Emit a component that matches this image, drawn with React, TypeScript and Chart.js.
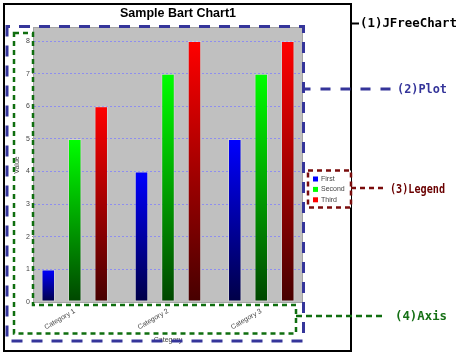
import React, { useEffect, useRef } from 'react';
import { Chart, registerables } from 'chart.js';

Chart.register(...registerables);

const categories = ['Category 1', 'Category 2', 'Category 3'];
const seriesNames = ['First', 'Second', 'Third'];
const firstValues = [1, 4, 5];
const secondValues = [5, 7, 7];
const thirdValues = [6, 8, 8];
const seriesValues = [firstValues, secondValues, thirdValues];
const topColors = ['#0000ff', '#00ff00', '#ff0000'];
const bottomColors = ['#000046', '#004600', '#460000'];
const chartTitle = 'Sample Bart Chart1';
const xTitle = 'Category';
const yTitle = 'Value';
const yMax = 8.4;
const yStep = 1;
const annotationLabels = ['(1)JFreeChart', '(2)Plot', '(3)Legend', '(4)Axis'];

const SANS = '"Liberation Sans", Arial, sans-serif';
const MONO = '"DejaVu Sans Mono", monospace';
const TICK_COLOR = '#444444';
const BLUE = '#35359a';
const GREEN = '#0f6e0f';
const DARKRED = '#7a0c0c';

function dashedLine(ctx: CanvasRenderingContext2D, pts: number[][], color: string, lw: number, dash: number[], offset = 0, close = false) {
  ctx.save();
  ctx.strokeStyle = color;
  ctx.lineWidth = lw;
  ctx.setLineDash(dash);
  ctx.lineDashOffset = offset;
  ctx.beginPath();
  pts.forEach((p, i) => (i === 0 ? ctx.moveTo(p[0], p[1]) : ctx.lineTo(p[0], p[1])));
  if (close) ctx.closePath();
  ctx.stroke();
  ctx.restore();
}

function label(ctx: CanvasRenderingContext2D, text: string, x: number, y: number, color: string, maxW: number) {
  ctx.save();
  ctx.font = `bold 13px ${MONO}`;
  ctx.fillStyle = color;
  ctx.textAlign = 'left';
  ctx.textBaseline = 'middle';
  ctx.fillText(text, x, y, maxW);
  ctx.restore();
}

const decorations = {
  id: 'decorations',
  beforeDraw(chart: any) {
    const { ctx, chartArea: ca } = chart;
    ctx.save();
    ctx.fillStyle = '#c0c0c0';
    ctx.fillRect(ca.left, ca.top, ca.right - ca.left, ca.bottom - ca.top);
    ctx.restore();
  },
  afterDatasetsDraw(chart: any) {
    const { ctx, chartArea: ca } = chart;
    ctx.save();
    ctx.strokeStyle = '#a4a4a4';
    ctx.lineWidth = 1;
    ctx.strokeRect(ca.left - 0.5, ca.top - 0.5, ca.right - ca.left + 1, ca.bottom - ca.top + 1);
    ctx.restore();
  },
  afterDraw(chart: any) {
    const { ctx, chartArea: ca } = chart;
    // outer JFreeChart border
    ctx.save();
    ctx.strokeStyle = '#000';
    ctx.lineWidth = 2;
    ctx.strokeRect(4, 4, 347, 347);
    ctx.restore();

    // legend (drawn from the dataset names / colours)
    const lx = ca.right + 6;
    const ly = 170.5;
    ctx.save();
    ctx.fillStyle = '#ffffff';
    ctx.fillRect(lx, ly, 43, 37);
    ctx.font = `7px ${SANS}`;
    ctx.textBaseline = 'middle';
    chart.data.datasets.forEach((ds: any, i: number) => {
      const cy = ly + 8.5 + i * 10.4;
      ctx.fillStyle = topColors[i];
      ctx.fillRect(lx + 5, cy - 2.5, 5, 5);
      ctx.fillStyle = TICK_COLOR;
      ctx.fillText(ds.label, lx + 13, cy);
    });
    ctx.restore();

    // (1) JFreeChart
    ctx.save();
    ctx.strokeStyle = '#000';
    ctx.lineWidth = 2;
    ctx.beginPath();
    ctx.moveTo(351, 23.5);
    ctx.lineTo(359, 23.5);
    ctx.stroke();
    ctx.restore();
    label(ctx, annotationLabels[0], 360, 24, '#000', 97);

    // (2) Plot
    const pl = 7, pt = 26.5, pr = ca.right + 1.5, pb = ca.bottom + 39;
    dashedLine(ctx, [[pl, pt], [pr, pt], [pr, pb], [pl, pb]], BLUE, 3, [11, 9], 8, true);
    dashedLine(ctx, [[pr, 89], [393, 89]], BLUE, 3, [10, 10], 3);
    label(ctx, annotationLabels[1], 397, 89.5, BLUE, 50);

    // (3) Legend
    dashedLine(ctx, [[lx, ly], [lx + 43, ly], [lx + 43, ly + 37], [lx, ly + 37]], DARKRED, 2.5, [5, 4], 0, true);
    dashedLine(ctx, [[lx + 43, 188], [386, 188]], DARKRED, 2.5, [5, 4], 0);
    label(ctx, annotationLabels[2], 390, 189.5, '#6a0000', 55);

    // (4) Axis
    const gl = 14, gt = 33, gi = ca.left - 1, gb = ca.bottom + 3, gr = ca.right - 6, gbb = ca.bottom + 31.5;
    dashedLine(ctx, [[gl, gt], [gi, gt], [gi, gb], [gr, gb], [gr, gbb], [gl, gbb]], GREEN, 2.5, [5, 4], 0, true);
    dashedLine(ctx, [[gr, 316], [384, 316]], GREEN, 2.5, [6, 4], 0);
    label(ctx, annotationLabels[3], 395, 316.5, '#157015', 52);
  },
};

export default function App() {
  const ref = useRef<HTMLCanvasElement | null>(null);

  useEffect(() => {
    const canvas = ref.current;
    if (!canvas) return;
    const datasets = seriesNames.map((name, si) => ({
      label: name,
      data: seriesValues[si].map((v, i) => ({ x: i, y: v })),
      backgroundColor: (c: any) => {
        const chart = c.chart;
        const { ctx, chartArea, scales } = chart;
        if (!chartArea || !scales || !scales.y || !c.raw) return topColors[si];
        const y0 = scales.y.getPixelForValue(0);
        const y1 = scales.y.getPixelForValue(c.raw.y);
        const g = ctx.createLinearGradient(0, y1, 0, y0);
        g.addColorStop(0, topColors[si]);
        g.addColorStop(1, bottomColors[si]);
        return g;
      },
      borderColor: 'rgba(255,255,255,0.28)',
      borderWidth: 1,
      borderSkipped: false,
      categoryPercentage: 0.852,
      barPercentage: 0.51,
    }));

    const chart = new Chart(canvas, {
      type: 'bar',
      data: { datasets },
      options: {
        animation: false,
        responsive: false,
        devicePixelRatio: 1,
        layout: { padding: { left: 4, top: 4, right: 108, bottom: 8 } },
        plugins: {
          legend: { display: false },
          tooltip: { enabled: false },
          title: {
            display: true,
            text: chartTitle,
            color: '#000',
            font: { family: SANS, size: 12.5, weight: 'bold' },
            padding: { top: 2.5, bottom: 6.5 },
          },
        },
        scales: {
          x: {
            type: 'linear',
            min: -0.437,
            max: 2.437,
            offset: false,
            grid: { display: false, drawTicks: false },
            border: { display: false },
            afterBuildTicks: (s: any) => {
              s.ticks = categories.map((_, i) => ({ value: i }));
            },
            ticks: {
              autoSkip: false,
              minRotation: 30,
              maxRotation: 30,
              padding: 5,
              color: TICK_COLOR,
              font: { family: SANS, size: 7 },
              callback: (v: any) => categories[v] ?? '',
            },
            title: {
              display: true,
              text: xTitle,
              color: TICK_COLOR,
              font: { family: SANS, size: 7 },
              padding: { top: 0, bottom: 8 },
            },
            afterFit: (s: any) => {
              s.height = 50;
            },
          },
          y: {
            type: 'linear',
            min: 0,
            max: yMax,
            border: { display: false, dash: [2, 2] },
            grid: { color: 'rgba(125,125,255,0.75)', lineWidth: 1, tickLength: 2, tickColor: '#888', drawTicks: true },
            ticks: {
              stepSize: yStep,
              includeBounds: false,
              padding: 2,
              color: TICK_COLOR,
              font: { family: SANS, size: 7 },
            },
            title: {
              display: true,
              text: yTitle,
              color: TICK_COLOR,
              font: { family: SANS, size: 7 },
              padding: { top: 9, bottom: 0 },
            },
            afterFit: (s: any) => {
              s.width = 30;
            },
          },
          y2: {
            position: 'right',
            display: true,
            grid: { display: false, drawTicks: false },
            border: { display: false },
            ticks: { display: false },
            afterFit: (s: any) => {
              s.width = 50;
            },
          },
        },
      },
      plugins: [decorations],
    } as any);

    return () => chart.destroy();
  }, []);

  return (
    <canvas
      ref={ref}
      width={460}
      height={360}
      style={{ position: 'absolute', left: 0, top: 0, width: 460, height: 360, display: 'block' }}
    />
  );
}
